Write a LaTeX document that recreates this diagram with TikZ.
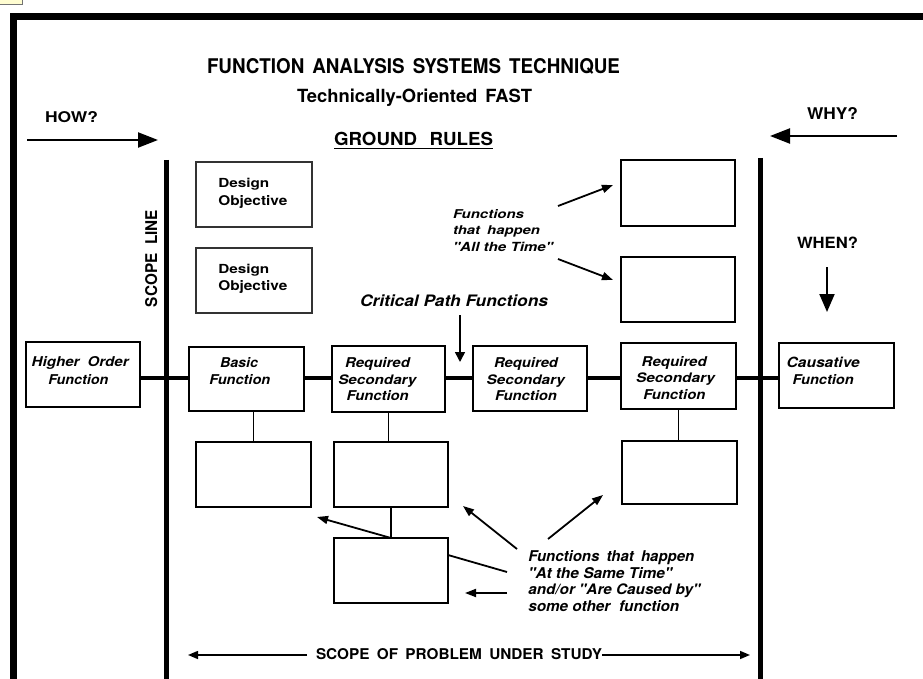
\documentclass[tikz,border=0pt]{standalone}
\usepackage{fontspec}
\setmainfont{TeX Gyre Heros}
\usetikzlibrary{arrows.meta}
\newcommand\fx[3]{\resizebox{#1pt}{#2pt}{#3}}
\newcommand\bi{\bfseries\itshape}
\newcommand\qq{\textquotedbl}
\newcommand\bx[6][box]{\node[#1, minimum width={(#5-#3)*1pt}, minimum height={(#6-#4)*1pt}] (#2) at ({(#3+#5)/2},{(#4+#6)/2}) {};}
\begin{document}
\begin{tikzpicture}[x=1pt,y=-1pt,
 box/.style={draw, line width=1.5pt, inner sep=0pt, outer sep=0pt},
 dobox/.style={box, line width=2.3pt, draw=black!80},
 txt/.style={inner sep=0pt, outer sep=0pt, anchor=base west},
 big/.style={line width=2.2pt, -{Triangle[length=20pt,width=15pt]}},
 arr/.style={line width=1.8pt, -{Triangle[length=11pt,width=8pt]}},
 fl/.style={line width=4pt},
 thinl/.style={line width=1.3pt},
 scopeline/.style={line width=5pt},
 frame/.style={line width=7pt, line join=miter}]
\useasboundingbox (0,0) rectangle (923,679);
\fill[white] (0,0) rectangle (923,679);
% corner fragment
\fill[yellow!18] (0,0) rectangle (22,5);
\draw[black!55, line width=1pt] (22,0) -- (22,5) -- (0,5);
% frame
\draw[frame] (13.5,679) -- (13.5,16.5) -- (923,16.5);
% titles
\node[txt] (title) at (207,74) {\fx{413}{15}{\bfseries FUNCTION\hspace{0.15em} ANALYSIS\hspace{0.15em} SYSTEMS\hspace{0.15em} TECHNIQUE}};
\node[txt] (sub) at (297,102.5) {\fx{235}{13.5}{\bfseries Technically-Oriented\hspace{0.15em} FAST}};
\node[txt] (gr) at (334,146) {\fx{159}{13.3}{\bfseries GROUND\hspace{0.4em} RULES}};
\draw[line width=1.3pt] ([yshift=-2.5pt]gr.base west) -- ([yshift=-2.5pt]gr.base east);
% how / why / when
\node[txt] (how) at (45,123) {\fx{53}{11}{\bfseries HOW?}};
\node[txt] (why) at (807,120) {\fx{51}{12}{\bfseries WHY?}};
\node[txt] (when) at (797,248) {\fx{61}{11.5}{\bfseries WHEN?}};
\coordinate (howA) at (27,140); \coordinate (howB) at (158,140);
\coordinate (whyA) at (897,136); \coordinate (whyB) at (770,136);
\coordinate (whenA) at (827,267); \coordinate (whenB) at (827,312);
\draw[big] (howA) -- (howB);
\draw[big] (whyA) -- (whyB);
\draw[line width=2pt, -{Triangle[length=18pt,width=15pt]}] (whenA) -- (whenB);
% scope lines
\draw[scopeline] (166,160) -- (166,679);
\draw[scopeline] (760,158) -- (760,679);
\node[txt, rotate=90] (sl) at (157,307) {\fx{97}{12}{\bfseries SCOPE\hspace{0.3em} LINE}};
% design objective boxes
\bx[dobox]{do1}{196}{162}{312}{227}
\bx[dobox]{do2}{196}{248}{312}{313}
\node[txt] (d1a) at (218.3,187.3) {\fx{51}{9.3}{\bfseries Design}};
\node[txt] (d1b) at (218.3,205) {\fx{69}{10}{\bfseries Objective}};
\node[txt] (d2a) at (218.3,273.8) {\fx{51}{9.3}{\bfseries Design}};
\node[txt] (d2b) at (218.3,290.7) {\fx{69}{10}{\bfseries Objective}};
% all the time boxes
\bx{at1}{621}{160}{735}{226}
\bx{at2}{621}{257}{735}{322}
\node[txt] (a1) at (453,218.3) {\fx{71}{9}{\bi Functions}};
\node[txt] (a2) at (453,234.3) {\fx{87}{8.8}{\bi that\hspace{0.2em} happen}};
\node[txt] (a3) at (453,251) {\fx{100}{9.3}{\bi \qq All the Time\qq}};
\coordinate (atA) at (558,206); \coordinate (atB) at (613,185);
\coordinate (atC) at (558,259); \coordinate (atD) at (613,280);
\draw[arr] (atA) -- (atB);
\draw[arr] (atC) -- (atD);
% critical path
\node[txt] (cp) at (360,306.7) {\fx{188}{11.7}{\bi Critical Path Functions}};
\coordinate (cpA) at (460,315); \coordinate (cpB) at (460,362);
\draw[line width=1.6pt, -{Triangle[length=10pt,width=10pt]}] (cpA) -- (cpB);
% main row
\coordinate (L) at (0,378);
\bx{ho}{26}{342}{140}{407}
\bx{bf}{189}{347}{304}{411}
\bx{r1}{332}{346}{445}{412}
\bx{r2}{473}{346}{587}{411}
\bx{r3}{621}{343}{736}{409}
\bx{ca}{779}{343}{894}{408}
\draw[fl] (ho.east |- L) -- (bf.west |- L);
\draw[fl] (bf.east |- L) -- (r1.west |- L);
\draw[fl] (r1.east |- L) -- (r2.west |- L);
\draw[fl] (r2.east |- L) -- (r3.west |- L);
\draw[fl] (r3.east |- L) -- (ca.west |- L);
\node[txt] (h1) at (31.7,366.7) {\fx{97}{10}{\bi Higher\hspace{0.25em} Order}};
\node[txt] (h2) at (48.3,384) {\fx{60}{10}{\bi Function}};
\node[txt] (b1t) at (220,367.3) {\fx{38}{10}{\bi Basic}};
\node[txt] (b2t) at (209.3,384) {\fx{61}{10}{\bi Function}};
\node[txt] (r1a) at (345,367.3) {\fx{65}{10}{\bi Required}};
\node[txt] (r1b) at (338.3,384) {\fx{78}{9.7}{\bi Secondary}};
\node[txt] (r1c) at (346.7,400.7) {\fx{62}{10}{\bi Function}};
\node[txt] (r2a) at (494,367.3) {\fx{64}{10}{\bi Required}};
\node[txt] (r2b) at (486.7,384) {\fx{78}{9.7}{\bi Secondary}};
\node[txt] (r2c) at (495,400.7) {\fx{62}{10}{\bi Function}};
\node[txt] (r3a) at (641.7,366) {\fx{65}{10}{\bi Required}};
\node[txt] (r3b) at (636,382.7) {\fx{79}{9.7}{\bi Secondary}};
\node[txt] (r3c) at (643.3,399.3) {\fx{62}{10}{\bi Function}};
\node[txt] (c1) at (786.7,367.7) {\fx{73}{10.4}{\bi Causative}};
\node[txt] (c2) at (792.7,384.3) {\fx{61}{10}{\bi Function}};
% lower boxes
\bx{lb1}{196}{442}{311}{507}
\bx{lb2}{334}{442}{448}{507}
\bx{lb3}{334}{538}{448}{603}
\bx{lb4}{622}{441}{737}{504}
\draw[thinl] (lb1.north) -- (lb1.north |- bf.south);
\draw[thinl] (r1.south) -- (r1.south |- lb2.north);
\draw[thinl] (lb2.south) -- (lb3.north);
\draw[thinl] (r3.south) -- (r3.south |- lb4.north);
% same time text
\node[txt] (s1) at (528.3,561) {\fx{166}{11}{\bi Functions\hspace{0.2em} that\hspace{0.2em} happen}};
\node[txt] (s2) at (528.3,578.3) {\fx{144}{11}{\bi \qq At the Same Time\qq}};
\node[txt] (s3) at (528.3,594) {\fx{172}{10.7}{\bi and/or \qq Are Caused by\qq}};
\node[txt] (s4) at (528.3,611) {\fx{151}{11}{\bi some other\hspace{0.3em} function}};
\coordinate (aT) at (317,517);
\coordinate (bS) at (448,555); \coordinate (bE) at (507,572);
\coordinate (cS) at (507,593); \coordinate (cT) at (465,593);
\coordinate (dS) at (517,549); \coordinate (dT) at (463,506);
\coordinate (eS) at (548,539); \coordinate (eT) at (603,495);
\draw[arr] (lb3.north) -- (aT);
\draw[line width=1.8pt] (bS) -- (bE);
\draw[arr] (cS) -- (cT);
\draw[arr] (dS) -- (dT);
\draw[arr] (eS) -- (eT);
% scope of problem
\node[txt] (sp) at (316,659.3) {\fx{286}{11}{\bfseries SCOPE\hspace{0.2em} OF\hspace{0.2em} PROBLEM\hspace{0.2em} UNDER\hspace{0.2em} STUDY}};
\coordinate (spL) at (188,655); \coordinate (spR) at (750,655);
\draw[line width=1.5pt, -{Triangle[length=10pt,width=8pt]}] ([xshift=-9pt]sp.west |- spL) -- (spL);
\draw[line width=1.5pt, -{Triangle[length=10pt,width=8pt]}] (sp.east |- spR) -- (spR);
\end{tikzpicture}
\end{document}
